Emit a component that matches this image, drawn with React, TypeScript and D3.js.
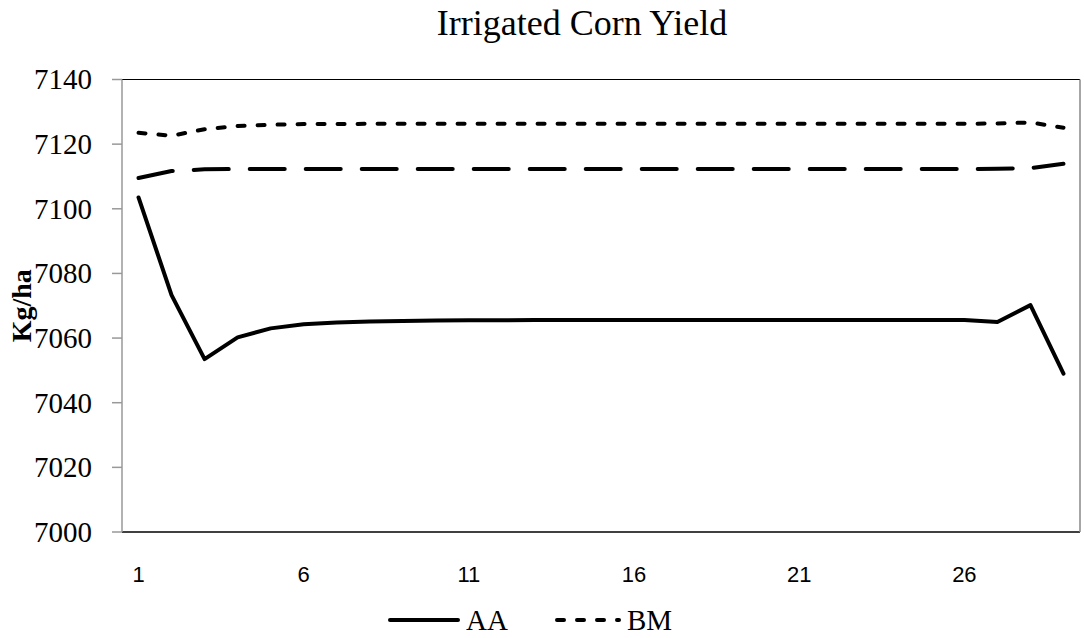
import React from "react";
import * as d3 from "d3";

// Simulation run index (x categories)
const runs: number[] = Array.from({ length: 29 }, (_, i) => i + 1);
const xTickLabels: number[] = [1, 6, 11, 16, 21, 26];
const yTicks: number[] = [7000, 7020, 7040, 7060, 7080, 7100, 7120, 7140];

// Yield series, Kg/ha
const aaYield: number[] = [
  7103.5, 7073.3, 7053.5, 7060.2, 7063.0, 7064.3, 7064.8, 7065.1, 7065.3, 7065.4,
  7065.5, 7065.5, 7065.6, 7065.6, 7065.6, 7065.6, 7065.6, 7065.6, 7065.6, 7065.6,
  7065.6, 7065.6, 7065.6, 7065.6, 7065.6, 7065.6, 7065.0, 7070.2, 7049.0,
];
const bmYield: number[] = [
  7123.5, 7122.6, 7124.6, 7125.6, 7126.0, 7126.2, 7126.2, 7126.3, 7126.3, 7126.3,
  7126.3, 7126.3, 7126.3, 7126.3, 7126.3, 7126.3, 7126.3, 7126.3, 7126.3, 7126.3,
  7126.3, 7126.3, 7126.3, 7126.3, 7126.3, 7126.3, 7126.4, 7126.7, 7125.1,
];
const thirdYield: number[] = [
  7109.5, 7111.7, 7112.2, 7112.3, 7112.3, 7112.3, 7112.3, 7112.3, 7112.3, 7112.3,
  7112.3, 7112.3, 7112.3, 7112.3, 7112.3, 7112.3, 7112.3, 7112.3, 7112.3, 7112.3,
  7112.3, 7112.3, 7112.3, 7112.3, 7112.3, 7112.3, 7112.4, 7112.6, 7113.9,
];

const W = 1084;
const H = 638;
const plot = { left: 122, right: 1080, top: 79.5, bottom: 532 };
const serif = "'Liberation Serif', 'Times New Roman', serif";
const narrow = "'Liberation Sans Narrow', 'Liberation Sans', 'Open Sans', sans-serif";

export default function App() {
  const x = d3
    .scaleBand<number>()
    .domain(runs)
    .range([plot.left, plot.right])
    .paddingInner(0)
    .paddingOuter(0);
  const cx = (r: number) => (x(r) as number) + x.bandwidth() / 2;
  const y = d3.scaleLinear().domain([7000, 7140]).range([plot.bottom, plot.top]);

  const line = d3
    .line<number>()
    .x((_, i) => cx(runs[i]))
    .y((v) => y(v));

  const series = [
    { name: "AA", values: aaYield, dash: "none" },
    { name: "BM", values: bmYield, dash: "7,13" },
    { name: "", values: thirdYield, dash: "35,21" },
  ];

  return (
    <svg
      width={W}
      height={H}
      style={{ position: "absolute", left: 0, top: 0, background: "#fff" }}
    >
      {/* title */}
      <text x={582} y={35} fontFamily={serif} fontSize={36} textAnchor="middle" fill="#000">
        Irrigated Corn Yield
      </text>

      {/* plot frame */}
      <line x1={plot.left} x2={plot.right} y1={plot.top} y2={plot.top} stroke="#000" strokeWidth={1} />
      <line x1={plot.left} x2={plot.right} y1={plot.bottom} y2={plot.bottom} stroke="#000" strokeWidth={1.3} />
      <line x1={plot.right} x2={plot.right} y1={plot.top} y2={plot.bottom} stroke="#888" strokeWidth={1.5} />
      <line x1={plot.left} x2={plot.left} y1={plot.top} y2={plot.bottom} stroke="#999" strokeWidth={1.5} />

      {/* y axis ticks and labels */}
      {yTicks.map((t) => (
        <g key={t}>
          <line x1={plot.left - 10} x2={plot.left} y1={y(t)} y2={y(t)} stroke="#999" strokeWidth={1.5} />
          <text
            x={92}
            y={y(t)}
            dy="0.34em"
            fontFamily={serif}
            fontSize={29}
            textAnchor="end"
            fill="#000"
          >
            {t}
          </text>
        </g>
      ))}

      {/* y axis title */}
      <text
        transform={`translate(31,${(plot.top + plot.bottom) / 2}) rotate(-90)`}
        fontFamily={serif}
        fontSize={28}
        fontWeight="bold"
        textAnchor="middle"
        fill="#000"
      >
        Kg/ha
      </text>

      {/* x labels */}
      {xTickLabels.map((t) => (
        <text
          key={t}
          x={cx(t)}
          y={582}
          fontFamily={narrow}
          fontSize={22}
          textAnchor="middle"
          fill="#000"
        >
          {t}
        </text>
      ))}

      {/* series */}
      {series.map((s, i) => (
        <path
          key={i}
          d={line(s.values) as string}
          fill="none"
          stroke="#000"
          strokeWidth={4}
          strokeDasharray={s.dash}
          strokeLinecap="round"
          strokeLinejoin="round"
        />
      ))}

      {/* legend */}
      <line x1={390} x2={458} y1={620} y2={620} stroke="#000" strokeWidth={4} strokeLinecap="round" />
      <text x={466} y={630} fontFamily={serif} fontSize={29} fill="#000">
        AA
      </text>
      <line
        x1={557}
        x2={619}
        y1={620}
        y2={620}
        stroke="#000"
        strokeWidth={4}
        strokeDasharray="7,13"
        strokeLinecap="round"
      />
      <text x={627} y={630} fontFamily={serif} fontSize={29} fill="#000">
        BM
      </text>
    </svg>
  );
}
